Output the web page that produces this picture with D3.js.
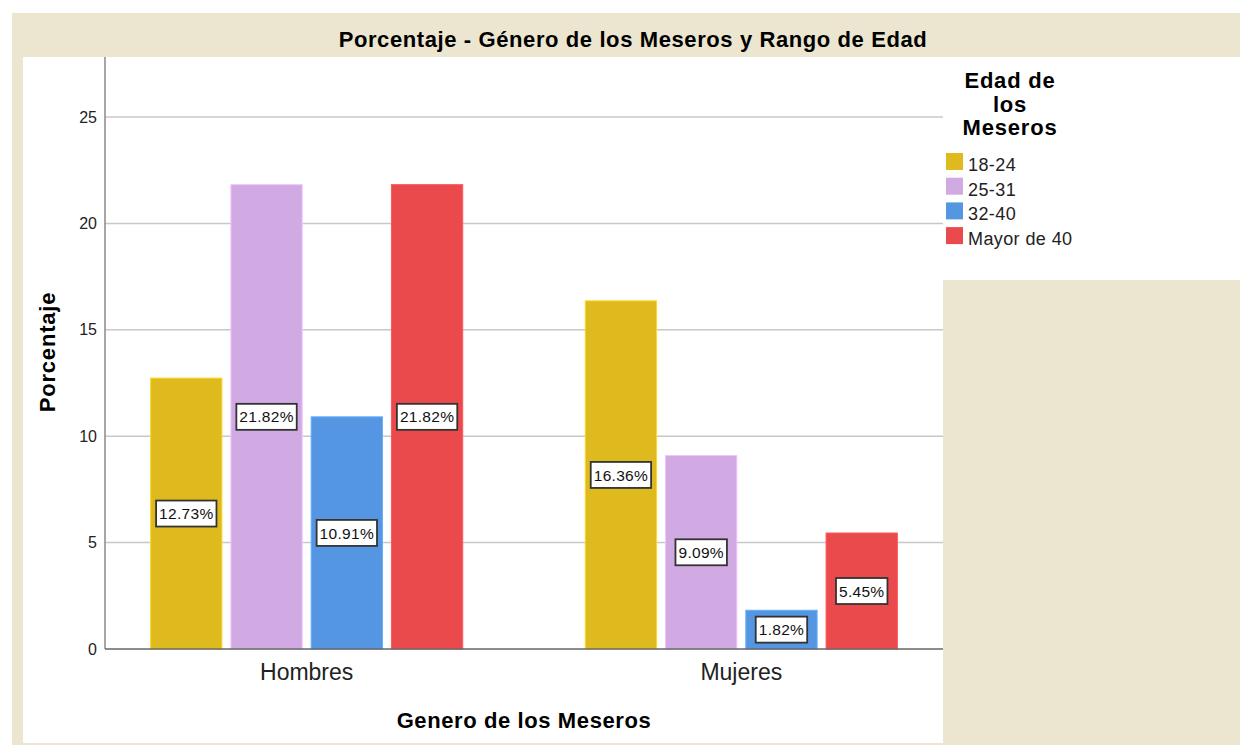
<!DOCTYPE html>
<html>
<head>
<meta charset="utf-8">
<script src="https://cdn.jsdelivr.net/npm/d3@7"></script>
<style>
  body { margin: 0; background: #fff; }
  text { font-family: Arial, "Liberation Sans", sans-serif; }
</style>
</head>
<body>
<div id="chart"></div>
<script>
const generos = ["Hombres", "Mujeres"];
const edades = ["18-24", "25-31", "32-40", "Mayor de 40"];
const colores = ["#DFBA1F", "#D1A9E3", "#5596E3", "#EB4A4C"];
const hombres = [12.73, 21.82, 10.91, 21.82];
const mujeres = [16.36, 9.09, 1.82, 5.45];
const yTicks = [0, 5, 10, 15, 20, 25];

const W = 1240, H = 745;
const beige = "#ECE5D0";
const plot = { left: 105, right: 943, top: 57, bottom: 649 };

const svg = d3.select("#chart").append("svg")
  .attr("width", W)
  .attr("height", H);

// marco
svg.append("rect").attr("x", 12).attr("y", 13).attr("width", W - 12).attr("height", H - 13).attr("fill", beige);
svg.append("rect").attr("x", 23).attr("y", 57).attr("width", 920).attr("height", 686).attr("fill", "#fff");
svg.append("rect").attr("x", 943).attr("y", 57).attr("width", W - 943).attr("height", 223).attr("fill", "#fff");

svg.append("text")
  .attr("x", 633).attr("y", 47)
  .attr("text-anchor", "middle")
  .attr("font-size", 22).attr("font-weight", "bold")
  .attr("letter-spacing", 0.6)
  .text("Porcentaje - Género de los Meseros y Rango de Edad");

const y = d3.scaleLinear()
  .domain([0, 25])
  .range([plot.bottom, 117]);

const x0 = d3.scaleBand()
  .domain(generos)
  .range([plot.left, plot.right])
  .paddingInner(0.282)
  .paddingOuter(0.105);

const x1 = d3.scaleBand()
  .domain(edades)
  .range([0, x0.bandwidth()])
  .paddingInner(0.112);

// rejilla
svg.append("g")
  .selectAll("line")
  .data(yTicks.filter(d => d > 0))
  .join("line")
  .attr("x1", plot.left).attr("x2", plot.right)
  .attr("y1", d => y(d)).attr("y2", d => y(d))
  .attr("stroke", "#c8c8c8").attr("stroke-width", 1.5);

// eje y
const yAxis = svg.append("g")
  .attr("transform", `translate(${plot.left},0)`)
  .call(d3.axisLeft(y).tickValues(yTicks).tickSize(0).tickPadding(8));
yAxis.select(".domain").remove();
yAxis.selectAll("text").attr("font-size", 16).attr("fill", "#222")
  .attr("font-family", "Arial, 'Liberation Sans', sans-serif");
svg.append("line")
  .attr("x1", plot.left).attr("x2", plot.left)
  .attr("y1", plot.top).attr("y2", plot.bottom)
  .attr("stroke", "#888").attr("stroke-width", 1.5);

const datos = generos.map((g, i) => ({
  genero: g,
  valores: (i === 0 ? hombres : mujeres).map((v, j) => ({ edad: edades[j], valor: v, color: colores[j] }))
}));

const grupos = svg.append("g")
  .selectAll("g")
  .data(datos)
  .join("g")
  .attr("transform", d => `translate(${x0(d.genero)},0)`);

grupos.selectAll("rect")
  .data(d => d.valores)
  .join("rect")
  .attr("x", d => x1(d.edad))
  .attr("y", d => y(d.valor))
  .attr("width", x1.bandwidth())
  .attr("height", d => y(0) - y(d.valor))
  .attr("fill", d => d.color)
  .attr("stroke", d => d3.color(d.color).brighter(0.4))
  .attr("stroke-width", 1);

// etiquetas
const etiquetas = grupos.selectAll("g.lab")
  .data(d => d.valores)
  .join("g")
  .attr("class", "lab")
  .attr("transform", d => `translate(${x1(d.edad) + x1.bandwidth() / 2},${(y(0) + y(d.valor)) / 2})`);

etiquetas.append("text")
  .attr("text-anchor", "middle")
  .attr("dy", "0.36em")
  .attr("font-size", 15.5)
  .attr("letter-spacing", 0.3)
  .attr("fill", "#111")
  .text(d => d.valor.toFixed(2) + "%")
  .each(function () {
    const b = this.getBBox();
    d3.select(this.parentNode).insert("rect", "text")
      .attr("x", b.x - 3).attr("y", -13)
      .attr("width", b.width + 6).attr("height", 26)
      .attr("fill", "#fff")
      .attr("stroke", "#333").attr("stroke-width", 1.8);
  });

// eje x
svg.append("line")
  .attr("x1", plot.left).attr("x2", plot.right)
  .attr("y1", plot.bottom).attr("y2", plot.bottom)
  .attr("stroke", "#666").attr("stroke-width", 1.5);

svg.append("g")
  .selectAll("text")
  .data(generos)
  .join("text")
  .attr("x", d => x0(d) + x0.bandwidth() / 2)
  .attr("y", 680)
  .attr("text-anchor", "middle")
  .attr("font-size", 23)
  .attr("fill", "#222")
  .text(d => d);

svg.append("text")
  .attr("x", 524).attr("y", 728)
  .attr("text-anchor", "middle")
  .attr("font-size", 22).attr("font-weight", "bold")
  .attr("letter-spacing", 0.6)
  .text("Genero de los Meseros");

svg.append("text")
  .attr("transform", "translate(55,352) rotate(-90)")
  .attr("text-anchor", "middle")
  .attr("font-size", 22).attr("font-weight", "bold")
  .attr("letter-spacing", 0.8)
  .text("Porcentaje");

// leyenda
const tituloLeyenda = ["Edad de", "los", "Meseros"];
svg.append("g")
  .selectAll("text")
  .data(tituloLeyenda)
  .join("text")
  .attr("x", 1010)
  .attr("y", (d, i) => 88 + i * 23.5)
  .attr("text-anchor", "middle")
  .attr("font-size", 22).attr("font-weight", "bold")
  .attr("letter-spacing", 0.8)
  .text(d => d);

const ley = svg.append("g")
  .selectAll("g")
  .data(edades)
  .join("g")
  .attr("transform", (d, i) => `translate(946,${153 + i * 24.7})`);
ley.append("rect")
  .attr("width", 17).attr("height", 17)
  .attr("fill", (d, i) => colores[i]);
ley.append("text")
  .attr("x", 22).attr("y", 18)
  .attr("font-size", 18)
  .attr("letter-spacing", 0.4)
  .attr("fill", "#222")
  .text(d => d);
</script>
</body>
</html>
